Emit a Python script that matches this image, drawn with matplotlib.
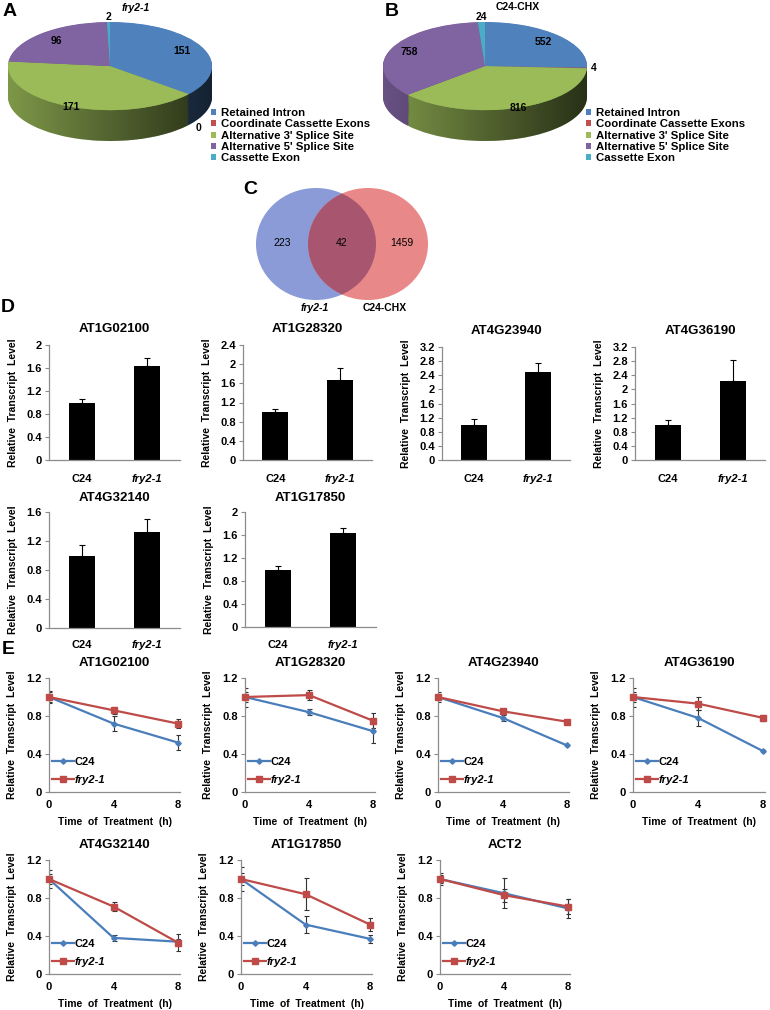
import numpy as np
import matplotlib
matplotlib.use('Agg')
import matplotlib.pyplot as plt
from matplotlib import font_manager
from matplotlib.patches import Ellipse, Polygon
from matplotlib.colors import to_rgb

plt.rcParams['font.family'] = ['Liberation Sans', 'DejaVu Sans']
plt.rcParams['font.weight'] = 'bold'
plt.rcParams['axes.titleweight'] = 'bold'
plt.rcParams['axes.labelweight'] = 'bold'

# ---- data ----
pie_labels = ['Retained Intron', 'Coordinate Cassette Exons', "Alternative 3' Splice Site",
              "Alternative 5' Splice Site", 'Cassette Exon']
pie_colors = ['#4F81BD', '#C0504D', '#9BBB59', '#8064A2', '#4BACC6']
pie_fry = [151, 0, 171, 96, 2]
pie_chx = [552, 4, 816, 758, 24]

venn_counts = [223, 42, 1459]
venn_names = ['fry2-1', 'C24-CHX']

bar_genes = ['AT1G02100', 'AT1G28320', 'AT4G23940', 'AT4G36190', 'AT4G32140', 'AT1G17850']
bar_groups = ['C24', 'fry2-1']
bar_c24 = [1.0, 1.0, 1.0, 1.0, 1.0, 1.0]
bar_c24_err = [0.06, 0.07, 0.17, 0.12, 0.15, 0.06]
bar_fry = [1.63, 1.66, 2.49, 2.23, 1.33, 1.64]
bar_fry_err = [0.15, 0.27, 0.25, 0.60, 0.18, 0.08]
bar_ymax = [2.0, 2.4, 3.2, 3.2, 1.6, 2.0]

line_genes = ['AT1G02100', 'AT1G28320', 'AT4G23940', 'AT4G36190', 'AT4G32140', 'AT1G17850', 'ACT2']
hours = [0, 4, 8]
c24_level = [[1.0, 0.72, 0.52], [1.0, 0.84, 0.64], [1.0, 0.78, 0.49], [1.0, 0.78, 0.43],
             [1.0, 0.38, 0.34], [1.0, 0.52, 0.37], [1.0, 0.85, 0.69]]
c24_err = [[0.06, 0.08, 0.08], [0.10, 0.03, 0.12], [0.05, 0.03, 0.01], [0.10, 0.08, 0.01],
           [0.09, 0.03, 0.03], [0.13, 0.09, 0.04], [0.06, 0.16, 0.10]]
fry_level = [[1.0, 0.86, 0.72], [1.0, 1.02, 0.75], [1.0, 0.85, 0.74], [1.0, 0.93, 0.78],
             [1.0, 0.71, 0.33], [1.0, 0.84, 0.52], [1.0, 0.83, 0.71]]
fry_err = [[0.05, 0.04, 0.05], [0.05, 0.05, 0.08], [0.03, 0.02, 0.02], [0.05, 0.07, 0.03],
           [0.05, 0.05, 0.09], [0.06, 0.17, 0.07], [0.04, 0.07, 0.08]]

W, H = 770, 1010
fig = plt.figure(figsize=(W / 100, H / 100), dpi=100)
GRAY = '#8C8C8C'

names = {f.name for f in font_manager.fontManager.ttflist}
narrow = 'Liberation Sans Narrow' if 'Liberation Sans Narrow' in names else 'Liberation Sans'


def box(x0, y0, x1, y1):
    return fig.add_axes([x0 / W, 1 - y1 / H, (x1 - x0) / W, (y1 - y0) / H])


def ftext(x, y, s, **kw):
    kw.setdefault('ha', 'center')
    kw.setdefault('va', 'center')
    fig.text(x / W, 1 - y / H, s, **kw)


# ---- pies ----
def draw_pie(ax, values, label_r, label_drop):
    t = 0.7
    side = [tuple(0.85 * c for c in to_rgb(col)) for col in pie_colors]
    for k in np.linspace(t, 0.01, 30):
        w, _ = ax.pie(values, colors=side, startangle=90, counterclock=False,
                      center=(0, -k), radius=1, wedgeprops=dict(linewidth=0))
        for p in w:
            p.set_zorder(1)
    th = np.linspace(0, -np.pi, 120)
    band = np.vstack([np.column_stack([np.cos(th), np.sin(th)]),
                      np.column_stack([np.cos(th[::-1]), np.sin(th[::-1]) - t])])
    clip = Polygon(band, closed=True, facecolor='none', edgecolor='none')
    ax.add_patch(clip)
    grad = np.zeros((1, 256, 4))
    grad[..., 3] = np.linspace(0.05, 0.7, 256)
    im = ax.imshow(grad, extent=(-1, 1, -1 - t, 0), aspect='auto', zorder=2)
    im.set_clip_path(clip)
    w, _ = ax.pie(values, colors=pie_colors, startangle=90, counterclock=False,
                  radius=1, wedgeprops=dict(linewidth=0))
    for p in w:
        p.set_zorder(3)
    total = sum(values)
    cum = np.cumsum([0] + values[:-1])
    for v, c, r, d in zip(values, cum, label_r, label_drop):
        ang = np.deg2rad(90 - 360 * (c + v / 2) / total)
        ax.text(r * np.cos(ang), r * np.sin(ang) - d, str(v), ha='center', va='center',
                fontsize=7.5, zorder=4)
    ax.set_aspect('auto')
    ax.set_xlim(-1, 1)
    ax.set_ylim(-1 - t, 1)
    ax.axis('off')
    return w


axA = box(8, 22, 212, 141)
wA = draw_pie(axA, pie_fry, [0.78, 1.12, 1.0, 0.78, 1.12], [0, 0.7, 0, 0, 0])
axB = box(383, 22, 587, 141)
wB = draw_pie(axB, pie_chx, [0.8, 1.07, 1.0, 0.8, 1.12], [0, 0, 0, 0, 0])

for ax, x0 in [(axA, 211), (axB, 586)]:
    ax.legend(wA, pie_labels, loc='upper left', bbox_to_anchor=(x0 / W, 1 - 108 / H),
              bbox_transform=fig.transFigure, frameon=False, fontsize=8.2,
              handlelength=0.45, handleheight=0.45, handletextpad=0.4,
              labelspacing=0.12, borderpad=0, borderaxespad=0)

ftext(136, 8, 'fry2-1', fontsize=7.5, style='italic')
ftext(518, 7, 'C24-CHX', fontsize=7.5)

# ---- venn ----
axC = box(230, 180, 450, 320)
axC.set_xlim(230, 450)
axC.set_ylim(320, 180)
axC.axis('off')
blue = Ellipse((316, 244), 120, 112, facecolor='#8A9BD8', edgecolor='none')
red = Ellipse((368, 244), 120, 112, facecolor='#E88888', edgecolor='none')
axC.add_patch(blue)
axC.add_patch(red)
lens = Ellipse((368, 244), 120, 112, facecolor='#A85670', edgecolor='none')
axC.add_patch(lens)
lens.set_clip_path(blue)
for cx, n in zip([282, 342, 402], venn_counts):
    axC.text(cx, 243, str(n), ha='center', va='center', fontsize=7.5, fontweight='normal')
ftext(315, 308, venn_names[0], fontsize=7.5, style='italic')
ftext(385, 308, venn_names[1], fontsize=7.5)


# ---- bars ----
def style_axes(ax, family=None):
    for s in ['top', 'right']:
        ax.spines[s].set_visible(False)
    for s in ['left', 'bottom']:
        ax.spines[s].set_color(GRAY)
        ax.spines[s].set_linewidth(0.9)
    ax.tick_params(axis='y', direction='out', length=3, color=GRAY, labelsize=8, pad=2)
    ax.tick_params(axis='x', length=0, labelsize=8)
    if family:
        for lab in ax.get_yticklabels() + ax.get_xticklabels():
            lab.set_family(family)


def fmt(v):
    return f'{v:g}'


bar_boxes = [(49, 345, 180, 460), (243, 345, 372, 460), (442, 347, 570, 460), (635, 347, 765, 460),
             (49, 512, 180, 628), (245, 512, 376, 627)]
for i, (x0, y0, x1, y1) in enumerate(bar_boxes):
    ax = box(x0, y0, x1, y1)
    fam = narrow if i < 4 else None
    x = np.arange(len(bar_groups))
    ax.bar(x, [bar_c24[i], bar_fry[i]], width=0.4, color='black',
           yerr=[[0, 0], [bar_c24_err[i], bar_fry_err[i]]],
           error_kw=dict(ecolor='black', elinewidth=0.8, capsize=2.2, capthick=0.8))
    ax.set_xlim(-0.5, 1.5)
    ax.set_ylim(0, bar_ymax[i])
    ticks = np.round(np.arange(0, bar_ymax[i] + 0.01, 0.4), 1)
    ax.set_yticks(ticks)
    ax.set_yticklabels([fmt(v) for v in ticks])
    ax.set_xticks(x)
    ax.set_xticklabels(bar_groups)
    ax.get_xticklabels()[1].set_style('italic')
    style_axes(ax, fam)
    ax.tick_params(axis='x', pad=10 if i < 4 else 9)
    ax.set_title(bar_genes[i], fontsize=9.5, pad=9 if i < 4 else 8, family=fam or 'Liberation Sans')
    ax.set_ylabel('Relative  Transcript  Level', fontsize=7.5, family=fam or 'Liberation Sans')
    ax.yaxis.set_label_coords(-31 / (x1 - x0), 0.5)

# ---- lines ----
line_boxes = [(49, 678, 180, 792), (245, 678, 375, 792), (438, 678, 569, 792), (633, 678, 765, 792),
              (49, 860, 180, 974), (241, 860, 372, 974), (440, 860, 570, 974)]
for i, (x0, y0, x1, y1) in enumerate(line_boxes):
    ax = box(x0, y0, x1, y1)
    ax.errorbar(hours, c24_level[i], yerr=c24_err[i], fmt='none', ecolor='#333333',
                elinewidth=0.8, capsize=1.8, capthick=0.8, zorder=2)
    ax.errorbar(hours, fry_level[i], yerr=fry_err[i], fmt='none', ecolor='#333333',
                elinewidth=0.8, capsize=1.8, capthick=0.8, zorder=2)
    l1, = ax.plot(hours, c24_level[i], color='#4A7EBB', lw=1.6, marker='D', ms=2.8,
                  clip_on=False, zorder=3, label='C24')
    l2, = ax.plot(hours, fry_level[i], color='#BE4B48', lw=1.6, marker='s', ms=4.5,
                  clip_on=False, zorder=3, label='fry2-1')
    ax.set_xlim(0, 8.12)
    ax.set_ylim(0, 1.2)
    ax.set_yticks([0, 0.4, 0.8, 1.2])
    ax.set_yticklabels(['0', '0.4', '0.8', '1.2'])
    ax.set_xticks(hours)
    style_axes(ax)
    ax.tick_params(axis='x', pad=6)
    ax.set_title(line_genes[i], fontsize=9.5, pad=9)
    ax.set_ylabel('Relative  Transcript  Level', fontsize=7.5)
    ax.yaxis.set_label_coords(-32 / (x1 - x0), 0.5)
    ax.set_xlabel('Time  of  Treatment  (h)', fontsize=7.5, labelpad=5)
    leg = ax.legend(handles=[l1, l2], loc='lower left', bbox_to_anchor=(0.02, 0.06),
                    frameon=False, fontsize=8, handlelength=2.0, handletextpad=0.1,
                    labelspacing=0.75, borderpad=0, borderaxespad=0)
    leg.get_texts()[1].set_style('italic')

# ---- panel letters ----
for x, y, s in [(10, 12, 'A'), (392, 12, 'B'), (250, 190, 'C'), (8, 308, 'D'), (8, 650, 'E')]:
    ftext(x, y, s, fontsize=14)

fig.savefig('out.png', dpi=100)
